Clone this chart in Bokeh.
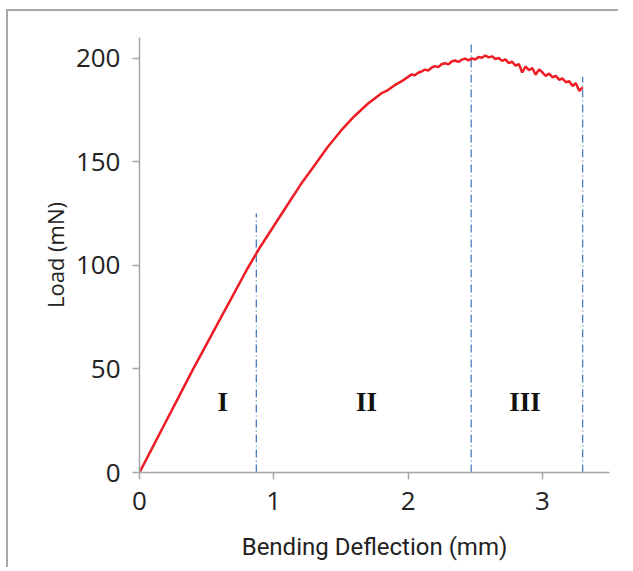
from bokeh.plotting import figure
from bokeh.models import Range1d, FixedTicker, ColumnDataSource
from bokeh.core.properties import value
from bokeh.embed import file_html
from bokeh.resources import INLINE

# ---- data ----
deflection = [0.0, 0.1, 0.2, 0.3, 0.4, 0.5, 0.6, 0.7, 0.8, 0.9, 1.0, 1.1, 1.2, 1.3,
              1.4, 1.5, 1.6, 1.7, 1.8, 1.85, 1.9, 1.95,
              2.000, 2.025, 2.050, 2.075, 2.100, 2.125, 2.150, 2.175, 2.200, 2.225,
              2.250, 2.275, 2.300, 2.325, 2.350, 2.375, 2.400, 2.425, 2.450, 2.475,
              2.500, 2.525, 2.550, 2.575, 2.600, 2.625, 2.650, 2.675, 2.700, 2.725,
              2.750, 2.775, 2.800, 2.825, 2.850, 2.875, 2.900, 2.925, 2.950, 2.975,
              3.000, 3.025, 3.050, 3.075, 3.100, 3.125, 3.150, 3.175, 3.200, 3.225,
              3.250, 3.275, 3.300]
load = [0.0, 12.5, 25.0, 37.5, 50.0, 62.0, 74.0, 86.0, 98.0, 109.0, 119.0, 129.0, 139.0, 148.0,
        157.0, 165.0, 172.0, 178.0, 183.0, 184.6, 187.0, 188.8,
        191.0, 192.1, 191.8, 193.0, 193.6, 194.5, 194.1, 195.4, 196.2, 195.7,
        197.1, 197.6, 197.0, 198.4, 198.9, 198.2, 199.3, 199.8, 199.0, 199.9,
        199.4, 200.6, 200.2, 201.3, 200.4, 200.9, 199.6, 200.1, 198.7, 199.4,
        197.6, 198.3, 196.4, 197.2, 193.1, 196.0, 194.2, 195.3, 192.0, 194.6,
        193.2, 191.4, 192.6, 190.8, 191.5, 189.6, 190.2, 188.4, 188.9, 186.6,
        187.9, 184.2, 186.0]

boundary_x = [0.87, 2.47, 3.3]
boundary_top = [125, 207, 191]
boundary_bottom = [0, 0, 0]

phase_names = ["I", "II", "III"]
phase_x = [0.62, 1.69, 2.87]
phase_y = [34, 34, 34]

x_ticks = [0, 1, 2, 3]
y_ticks = [0, 50, 100, 150, 200]

# ---- figure ----
p = figure(width=610, height=556, output_backend="svg", toolbar_location=None,
           x_range=Range1d(0, 3.5), y_range=Range1d(0, 210))
p.min_border_left = 131
p.min_border_right = 9
p.min_border_top = 26
p.min_border_bottom = 95
p.frame_width = 470
p.frame_height = 435
p.outline_line_color = None
p.background_fill_color = "white"
p.border_fill_color = "white"
p.styles = {"border-top": "2px solid #a8a8a8", "border-left": "2px solid #a8a8a8",
            "margin-top": "9px", "margin-left": "6px"}

p.xgrid.visible = False
p.ygrid.visible = False

for ax in (p.xaxis[0], p.yaxis[0]):
    ax.axis_line_color = "#a6a6a6"
    ax.axis_line_width = 1.5
    ax.major_tick_line_color = "#a6a6a6"
    ax.major_tick_line_width = 1.5
    ax.major_tick_out = 7
    ax.major_tick_in = 0
    ax.minor_tick_line_color = None
    ax.major_label_text_font = "Open Sans"
    ax.major_label_text_font_size = "26px"
    ax.major_label_text_color = "#222222"
    ax.axis_label_text_font_style = "normal"
    ax.axis_label_text_color = "#222222"

p.xaxis.ticker = FixedTicker(ticks=x_ticks)
p.yaxis.ticker = FixedTicker(ticks=y_ticks)
p.xaxis.axis_label = "Bending Deflection (mm)"
p.yaxis.axis_label = "Load (mN)"
p.xaxis.axis_label_text_font = "Roboto"
p.xaxis.axis_label_text_font_size = "24px"
p.yaxis.axis_label_text_font = "Open Sans"
p.yaxis.axis_label_text_font_size = "22px"
p.xaxis.major_label_standoff = 12
p.yaxis.major_label_standoff = 12
p.xaxis.axis_label_standoff = 20
p.yaxis.axis_label_standoff = 3

# boundaries
p.segment(x0=boundary_x, y0=boundary_bottom, x1=boundary_x, y1=boundary_top,
          line_color="#4a7ebb", line_width=1.3, line_dash="8 3 1 3")

# curve
p.line(deflection, load, line_color="#ee1c24", line_width=2.5)

# phase labels
src = ColumnDataSource(dict(x=phase_x, y=phase_y, t=phase_names))
p.text(x="x", y="y", text="t", source=src, text_font=value("Liberation Serif"),
       text_font_style="bold", text_font_size="27px", text_color="#111111",
       text_align="center", text_baseline="middle")

open("out.html", "w").write(file_html(p, INLINE))
